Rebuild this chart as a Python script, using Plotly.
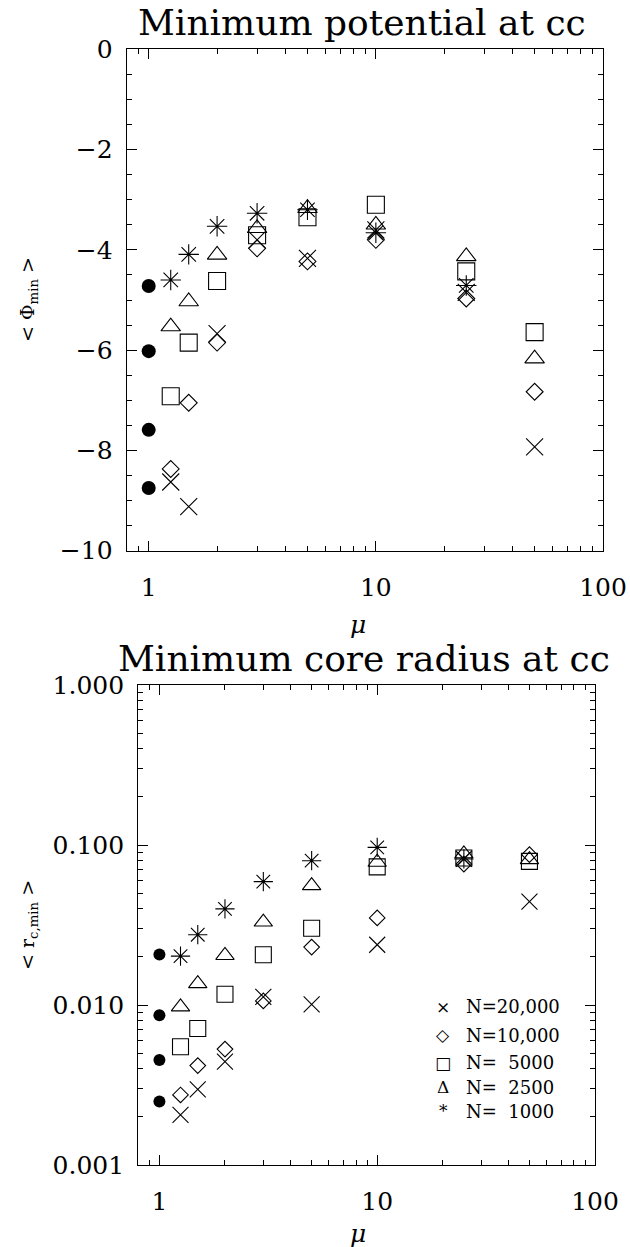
import numpy as np
import plotly.graph_objects as go

W, H = 630, 1247

# ---------------- data ----------------
mu = [1.25, 1.5, 2, 3, 5, 10, 25, 50]
mu_1000 = [1.25, 1.5, 2, 3, 5, 10, 25]
mu_ref = [1, 1, 1, 1]

# top panel: <Phi_min>
phi_20000 = [-8.63, -9.12, -5.67, -3.80, -4.17, -3.60, -4.85, -7.93]
phi_10000 = [-8.37, -7.05, -5.85, -3.97, -4.23, -3.80, -4.97, -6.83]
phi_5000 = [-6.92, -5.85, -4.62, -3.71, -3.35, -3.10, -4.43, -5.64]
phi_2500 = [-5.53, -5.03, -4.10, -3.57, -3.17, -3.50, -4.13, -6.17]
phi_1000 = [-4.60, -4.09, -3.53, -3.27, -3.20, -3.66, -4.71]
phi_ref = [-4.72, -6.02, -7.59, -8.75]

# bottom panel: <r_c,min>
rc_20000 = [0.00206, 0.00297, 0.00443, 0.01124, 0.0101, 0.0238, 0.0820, 0.0443]
rc_10000 = [0.00274, 0.00418, 0.00530, 0.0106, 0.0230, 0.0350, 0.0760, 0.0870]
rc_5000 = [0.00548, 0.00713, 0.01167, 0.0206, 0.0302, 0.0730, 0.0830, 0.0790]
rc_2500 = [0.00973, 0.0136, 0.0204, 0.0330, 0.0557, 0.0780, 0.0880, 0.0810]
rc_1000 = [0.0202, 0.0275, 0.0399, 0.0590, 0.0798, 0.0966, 0.0818]
rc_ref = [0.0207, 0.00863, 0.00453, 0.00249]

legend_symbols = ["\u00d7", "\u25c7", "\u25a1", "\u0394", "*"]
legend_labels = ["N=20,000", "N=10,000", "N=\u00a0\u00a05000", "N=\u00a0\u00a02500", "N=\u00a0\u00a01000"]

x_ticks = [1, 10, 100]
x_ticktext = ["1", "10", "100"]
y1_ticks = [0, -2, -4, -6, -8, -10]
y2_ticks = [0.001, 0.01, 0.1, 1.0]
y2_ticktext = ["0.001", "0.010", "0.100", "1.000"]

FONT = "DejaVu Serif"
BLACK = "black"


def px_x(x):
    return x / W


def px_y(y):
    return 1 - y / H


fig = go.Figure()

series = [
    ("x-thin-open", 17, phi_20000, rc_20000, mu),
    ("diamond-open", 13, phi_10000, rc_10000, mu),
    ("square-open", 17, phi_5000, rc_5000, mu),
    ("triangle-up-open", 17, phi_2500, rc_2500, mu),
    ("asterisk-open", 17, phi_1000, rc_1000, mu_1000),
]

for sym, size, top, bot, xs in series:
    fig.add_trace(go.Scatter(x=xs, y=top, mode="markers", xaxis="x", yaxis="y",
                             marker=dict(symbol=sym, size=size, color=BLACK,
                                         line=dict(color=BLACK, width=1.1)),
                             showlegend=False))
    fig.add_trace(go.Scatter(x=xs, y=bot, mode="markers", xaxis="x2", yaxis="y2",
                             marker=dict(symbol=sym, size=size - 1, color=BLACK,
                                         line=dict(color=BLACK, width=1.1)),
                             showlegend=False))

fig.add_trace(go.Scatter(x=mu_ref, y=phi_ref, mode="markers", xaxis="x", yaxis="y",
                         marker=dict(symbol="circle", size=14, color=BLACK), showlegend=False))
fig.add_trace(go.Scatter(x=mu_ref, y=rc_ref, mode="markers", xaxis="x2", yaxis="y2",
                         marker=dict(symbol="circle", size=12, color=BLACK), showlegend=False))

minor_x = [0.9] + [k for k in range(2, 10)] + [10 * k for k in range(2, 10)]
minor_y2 = [m * 10 ** e for e in range(-3, 0) for m in range(2, 10)]

axis_common = dict(showline=True, linecolor=BLACK, linewidth=1.2, mirror="ticks",
                   ticks="inside", tickcolor=BLACK, tickwidth=1, showgrid=False,
                   zeroline=False, automargin=False,
                   tickfont=dict(family=FONT, size=25, color=BLACK))

fig.update_layout(
    width=W, height=H,
    margin=dict(l=0, r=0, t=0, b=0, autoexpand=False),
    paper_bgcolor="white", plot_bgcolor="white",
    showlegend=False,
    xaxis=dict(axis_common, type="log", range=[np.log10(0.8), 2],
               domain=[px_x(126.7), px_x(603)], anchor="y",
               tickmode="array", tickvals=x_ticks, ticktext=x_ticktext, ticklen=10,
               ticklabelstandoff=14,
               minor=dict(tickmode="array", tickvals=minor_x, ticks="inside", ticklen=5,
                          tickcolor=BLACK, tickwidth=1, showgrid=False)),
    yaxis=dict(axis_common, range=[-10, 0], domain=[px_y(550.7), px_y(49.3)], anchor="x",
               tickmode="array", tickvals=y1_ticks, ticklen=10, ticklabelstandoff=8,
               minor=dict(dtick=0.5, ticks="inside", ticklen=5, tickcolor=BLACK,
                          tickwidth=1, showgrid=False)),
    xaxis2=dict(axis_common, type="log", range=[np.log10(0.8), 2],
                domain=[px_x(138.3), px_x(595)], anchor="y2",
                tickmode="array", tickvals=x_ticks, ticktext=x_ticktext, ticklen=10,
                ticklabelstandoff=14,
                minor=dict(tickmode="array", tickvals=minor_x, ticks="inside", ticklen=5,
                           tickcolor=BLACK, tickwidth=1, showgrid=False)),
    yaxis2=dict(axis_common, type="log", range=[-3, 0], domain=[px_y(1165), px_y(685)],
                anchor="x2", tickmode="array", tickvals=y2_ticks, ticktext=y2_ticktext,
                ticklen=10, ticklabelstandoff=8,
                minor=dict(tickmode="array", tickvals=minor_y2, ticks="inside", ticklen=5,
                           tickcolor=BLACK, tickwidth=1, showgrid=False)),
)


def note(text, x, y, size, angle=0, xanchor="center", yanchor="middle"):
    return dict(text=text, x=px_x(x), y=px_y(y), xref="paper", yref="paper",
                showarrow=False, xanchor=xanchor, yanchor=yanchor, textangle=angle,
                font=dict(family=FONT, size=size, color=BLACK))


ann = [
    note("Minimum potential at cc", 362, 0, 36, yanchor="top"),
    note("Minimum core radius at cc", 364, 659, 36),
    note("<i>\u03bc</i>", 358, 624, 25),
    note("<i>\u03bc</i>", 358, 1233, 25),
    note("&lt; \u03a6<sub>min</sub> &gt;", 28, 300, 19, angle=-90),
    note("&lt; r<sub>c,min</sub> &gt;", 28, 925, 19, angle=-90),
]

# legend text inside lower panel
leg_y = [1006.7, 1035, 1062.7, 1087.3, 1111]
for sym, lab, yy in zip(legend_symbols, legend_labels, leg_y):
    ann.append(note(sym, 443, yy, 17))
    ann.append(note(lab, 464, yy, 18, xanchor="left"))

fig.update_layout(annotations=ann)

# remove the browser's default 8px body margin so the figure fills the window exactly
fig.write_html("out.html", config={"displayModeBar": False},
               post_script="document.body.style.margin='0';")
